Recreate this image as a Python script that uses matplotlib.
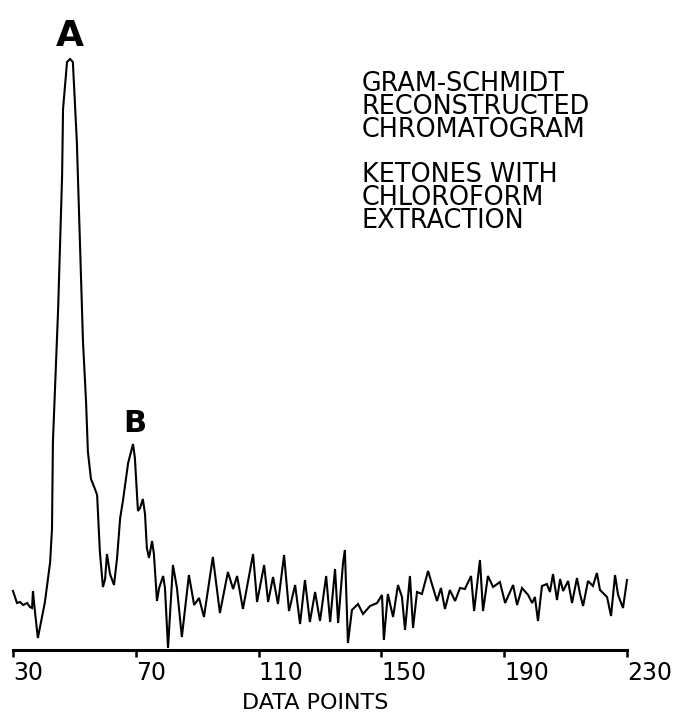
#!/usr/bin/env python3
"""
Gram-Schmidt reconstructed chromatogram (ketones, chloroform extraction).
Trace redrawn from the plotter output.
"""

import numpy as np
import matplotlib
matplotlib.use("Agg")
import matplotlib.pyplot as plt

# data point index (x) and reconstructed intensity (arbitrary units)
DATA_POINT = [
    30.0, 31.3, 32.3, 33.3, 34.6, 35.5, 36.2, 36.5, 37.2, 38.1,
    40.4, 42.1, 42.7, 43.0, 44.7, 46.0, 46.3, 47.6, 48.6, 49.5,
    50.8, 51.8, 52.8, 53.8, 54.4, 55.4, 56.7, 57.4, 58.3, 59.3,
    60.0, 60.6, 61.6, 62.9, 63.9, 64.9, 65.8, 67.5, 69.1, 69.7,
    70.7, 71.4, 72.3, 73.0, 73.6, 74.3, 75.3, 75.9, 76.9, 77.6,
    78.9, 79.5, 80.5, 82.1, 83.4, 85.0, 87.3, 89.0, 90.6, 92.2,
    95.1, 97.4, 100.0, 101.7, 103.0, 104.9, 108.2, 109.5, 111.8, 113.1,
    114.7, 116.3, 118.3, 119.9, 121.9, 123.5, 125.1, 126.7, 128.4, 130.0,
    132.0, 133.3, 134.9, 135.9, 137.5, 138.1, 139.1, 140.4, 142.4, 144.0,
    146.3, 148.6, 150.2, 150.8, 152.1, 153.8, 155.4, 156.7, 157.7, 159.3,
    160.3, 161.6, 163.2, 165.2, 168.1, 169.4, 170.7, 172.3, 174.0, 175.6,
    177.2, 179.2, 180.2, 182.1, 183.1, 184.7, 186.4, 188.6, 190.3, 192.9,
    194.2, 195.8, 197.8, 199.1, 200.0, 201.0, 202.3, 203.9, 204.9, 205.9,
    207.2, 208.2, 209.2, 210.8, 212.1, 213.7, 214.7, 215.7, 217.3, 218.9,
    220.2, 221.2, 223.5, 224.8, 226.1, 227.1, 228.7, 230.0,
]
INTENSITY = [
    59, 47, 48, 45, 47, 43, 42, 59, 37, 12,
    48, 88, 121, 208, 341, 475, 541, 588, 591, 588,
    508, 408, 308, 248, 198, 171, 161, 155, 98, 63,
    71, 96, 76, 65, 92, 132, 149, 187, 206, 192,
    139, 142, 151, 136, 102, 92, 109, 96, 49, 62,
    74, 62, 2, 85, 62, 13, 75, 45, 52, 33,
    93, 37, 78, 61, 74, 41, 96, 48, 85, 48,
    73, 46, 95, 39, 65, 26, 70, 28, 58, 29,
    74, 28, 81, 27, 87, 100, 7, 40, 46, 36,
    44, 47, 55, 10, 56, 33, 65, 53, 20, 74,
    22, 58, 56, 79, 49, 62, 41, 60, 49, 62,
    61, 74, 39, 90, 39, 74, 63, 68, 47, 65,
    45, 62, 55, 47, 53, 29, 64, 66, 58, 76,
    50, 71, 59, 69, 47, 72, 56, 44, 69, 64,
    77, 60, 53, 34, 75, 55, 42, 70,
]

TICKS = [30, 70, 110, 150, 190, 230]

PEAK_NAMES = ["A", "B"]
PEAK_X = [48.6, 69.8]

TITLE_LINES = [
    "GRAM-SCHMIDT",
    "RECONSTRUCTED",
    "CHROMATOGRAM",
    "",
    "KETONES WITH",
    "CHLOROFORM",
    "EXTRACTION",
]


def main():
    W, H = 676, 717
    fig = plt.figure(figsize=(W / 100, H / 100), dpi=100)
    # axes box set in pixels of the original plot
    ax = fig.add_axes([13 / W, 1 - 650 / H, 614 / W, 650 / H])

    x = np.array(DATA_POINT)
    y = np.array(INTENSITY)
    ax.plot(x, y, color="black", lw=1.5, clip_on=False, solid_joinstyle="miter")

    ax.set_xlim(30, 230)
    ax.set_ylim(0, 650)

    for side in ["left", "right", "top"]:
        ax.spines[side].set_visible(False)
    ax.spines["bottom"].set_linewidth(2.2)
    ax.set_yticks([])

    ax.set_xticks(TICKS)
    ax.set_xticklabels([str(t) for t in TICKS], ha="left",
                       fontsize=17, family="DejaVu Sans")
    ax.tick_params(axis="x", direction="out", length=5, width=1.8, pad=3)

    # peak letters, sat just above the local maximum
    for name, px in zip(PEAK_NAMES, PEAK_X):
        near = np.abs(x - px) < 2.5
        py = y[near].max()
        size = 26 if name == "A" else 22
        ax.annotate(name, (px, py), xytext=(0, 9), textcoords="offset points",
                    ha="center", va="baseline", fontsize=size, fontweight="bold",
                    family=["Liberation Sans Narrow", "DejaVu Sans"])

    fig.text(362 / W, 1 - 71 / H, "\n".join(TITLE_LINES), ha="left", va="top",
             fontsize=18.4, linespacing=0.84, family="DejaVu Sans")

    fig.text(315 / W, 1 - 703 / H, "DATA POINTS", ha="center", va="center",
             fontsize=16, family="DejaVu Sans")

    fig.savefig("out.png", dpi=100, facecolor="white")


if __name__ == "__main__":
    main()
